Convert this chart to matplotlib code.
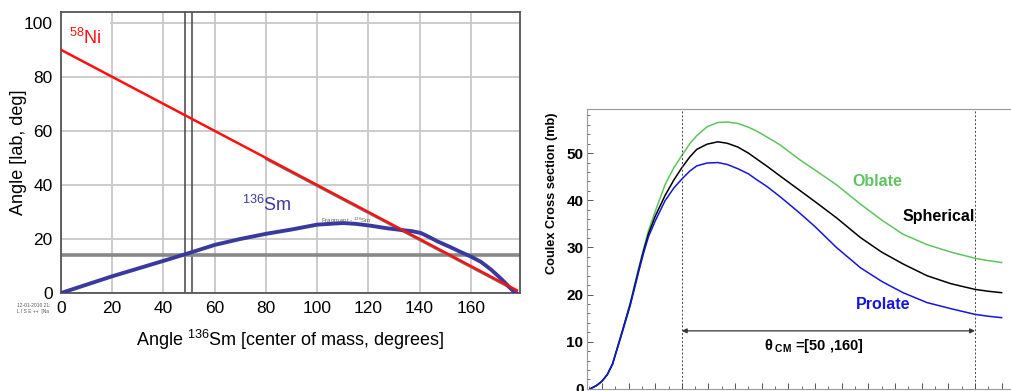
import matplotlib
matplotlib.use("Agg")
import matplotlib.pyplot as plt
from matplotlib.transforms import offset_copy

plt.rcParams["font.family"] = ["Liberation Sans", "DejaVu Sans"]
plt.rcParams["mathtext.fontset"] = "custom"
plt.rcParams["mathtext.rm"] = "Liberation Sans"
plt.rcParams["mathtext.bf"] = "Liberation Sans:bold"
plt.rcParams["mathtext.it"] = "Liberation Sans:italic"

# left panel: lab angle vs CM angle
ni_cm = [0, 178]
ni_lab = [90, 1]
frag_cm = [80, 178]          # grey fragment line hidden under the red one
frag_lab = [50, 1]
sm_cm = [0, 20, 40, 50, 60, 70, 80, 90, 100, 110, 115, 121, 127, 133, 137,
         140.5, 144, 147, 152, 156, 160, 164, 168, 171, 173, 175, 176.5, 177.5]
sm_lab = [0, 6.2, 11.9, 14.8, 17.8, 20.0, 21.9, 23.5, 25.3, 25.9, 25.6, 24.9,
          24.0, 23.3, 22.9, 22.2, 20.6, 19.1, 17.0, 15.2, 13.5, 11.5, 8.6,
          6.0, 4.2, 2.2, 0.8, 0]
cuts_cm = [48.5, 51.0]
cut_lab = 14.2

# right panel: Coulex cross section vs CM angle
theta = [15.6, 18, 20, 22, 24, 27.5, 30.6, 33.7, 35.6, 37.5, 40, 43.7, 47, 50,
         53, 55.6, 59.5, 63.5, 67, 71, 75, 78, 82, 87, 94, 100, 108, 117, 125,
         133, 142, 151, 160, 165, 170]
oblate = [0, 0.7, 1.6, 3.0, 5.3, 12.0, 18.2, 25.4, 29.6, 33.6, 37.6, 43.3,
          46.9, 49.5, 52.0, 53.7, 55.6, 56.5, 56.6, 56.3, 55.5, 54.7, 53.4,
          51.7, 48.7, 46.4, 43.3, 39.2, 35.8, 32.8, 30.6, 29.0, 27.7, 27.2,
          26.8]
spherical = [0, 0.7, 1.6, 3.0, 5.3, 11.9, 17.9, 25.0, 29.2, 32.9, 36.6, 41.0,
             44.3, 46.9, 49.2, 50.8, 51.9, 52.4, 52.1, 51.3, 50.0, 48.8, 47.2,
             45.1, 42.2, 39.7, 36.3, 32.1, 29.0, 26.5, 24.0, 22.3, 21.1,
             20.7, 20.4]
prolate = [0, 0.7, 1.6, 3.0, 5.2, 11.7, 17.6, 24.6, 28.7, 32.3, 35.6, 39.9,
           42.6, 44.5, 46.2, 47.3, 47.9, 48.0, 47.6, 46.7, 45.6, 44.4, 42.9,
           40.7, 37.4, 34.4, 30.0, 25.7, 22.8, 20.4, 18.3, 17.0, 15.8, 15.4,
           15.1]
window = [50, 160]

fig = plt.figure(figsize=(10.12, 3.91), dpi=100)

# ---- left
ax = fig.add_axes([0.0603, 0.2506, 0.4535, 0.7187])
ax.set_xlim(0, 179.2)
ax.set_ylim(0, 104)
ax.set_xticks(range(0, 161, 20))
ax.set_yticks(range(0, 101, 20))
ax.tick_params(length=0, labelsize=12.5, pad=6)
ax.grid(color="#c8c8c8", lw=1.3)
ax.set_axisbelow(True)
for s in ax.spines.values():
    s.set_color("#555555")
    s.set_linewidth(1.3)
for c in cuts_cm:
    ax.axvline(c, color="#444444", lw=1.1)
ax.axhline(cut_lab, color="#888888", lw=2.6)
ax.plot(frag_cm, frag_lab, color="#777777", lw=1.4, zorder=3,
        transform=offset_copy(ax.transData, fig=fig, y=-1.3, units="dots"))
ax.plot(ni_cm, ni_lab, color="#ff1010", lw=1.8, zorder=4)
ax.plot(sm_cm, sm_lab, color="#3a3a9e", lw=2.8, zorder=3)
ax.text(3, 92, r"$^{58}$Ni", color="#ff1010", fontsize=13, zorder=2,
        bbox=dict(facecolor="white", edgecolor="none", pad=6))
ax.text(70.5, 30.5, r"$^{136}$Sm", color="#3a3a9e", fontsize=13)
ax.text(101.5, 25.9, r"Fragment - $^{136}$Sm", color="#666666", fontsize=4.5)
ax.set_ylabel("Angle [lab, deg]", fontsize=13)
ax.yaxis.set_label_coords(-0.074, 0.5)
ax.set_xlabel(r"Angle $^{136}$Sm [center of mass, degrees]", fontsize=13,
              labelpad=8)
fig.text(0.017, 0.200, "12-01-2010 21:\nL I S E ++  [Na", fontsize=3.5,
         color="#555555", linespacing=1.2)

# ---- right
bx = fig.add_axes([0.58, 0.0055, 0.42, 0.715])
bx.set_xlim(14.4, 173.9)
bx.set_ylim(0, 59.3)
bx.plot(theta, oblate, color="#5ec45e", lw=1.1)
bx.plot(theta, spherical, color="black", lw=1.1)
bx.plot(theta, prolate, color="#1515dd", lw=1.1)
for w in window:
    bx.axvline(w, color="#444444", lw=0.7, ls=(0, (2, 2)))
bx.annotate("", xy=(window[0], 12.3), xytext=(window[1], 12.3),
            arrowprops=dict(arrowstyle="<|-|>", color="#333333", lw=0.9,
                            mutation_scale=7, shrinkA=0, shrinkB=0))
bx.text(99.5, 8.3, r"θ$_{\ \mathbf{CM}}$ =[50 ,160]", fontsize=10.5,
        fontweight="bold", ha="center")
bx.text(123.5, 43.9, "Oblate", color="#5ec45e", fontsize=11.5,
        fontweight="bold", ha="center", va="center")
bx.text(146.5, 36.5, "Spherical", color="black", fontsize=11.5,
        fontweight="bold", ha="center", va="center")
bx.text(125.5, 17.9, "Prolate", color="#1515dd", fontsize=11.5,
        fontweight="bold", ha="center", va="center")
bx.set_yticks(range(0, 51, 10))
bx.set_yticks(range(0, 59, 2), minor=True)
bx.set_xticks(range(20, 171, 10))
bx.set_xticks(range(15, 174, 5), minor=True)
bx.tick_params(direction="in", labelsize=11, length=4, width=0.7, pad=2.5,
               color="#555555", labelbottom=False)
bx.tick_params(which="minor", direction="in", length=2.5, width=0.6,
               color="#555555")
for t in bx.get_yticklabels():
    t.set_fontweight("bold")
bx.spines["right"].set_visible(False)
for s in ["left", "top", "bottom"]:
    bx.spines[s].set_color("#999999")
bx.set_ylabel("Coulex Cross section (mb)", fontsize=9.2, fontweight="bold")
bx.yaxis.set_label_coords(-0.068, 0.70)

fig.savefig("out.png", dpi=100)
